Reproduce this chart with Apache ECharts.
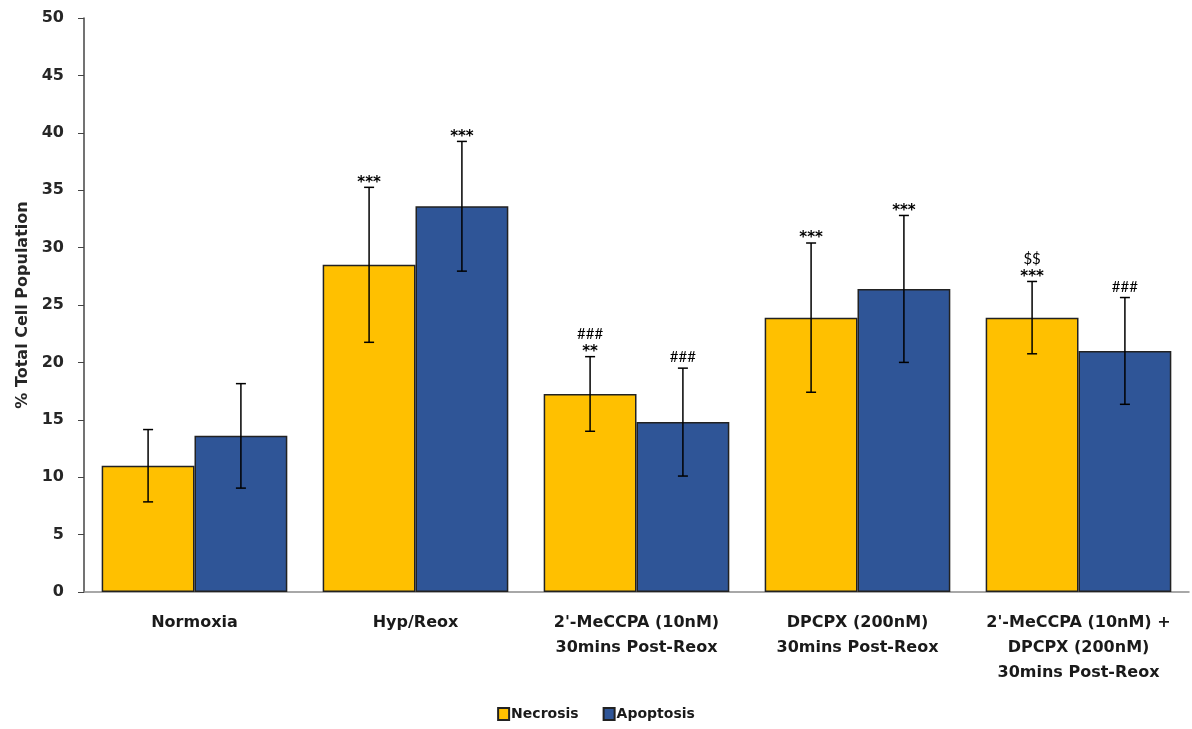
<!DOCTYPE html>
<html><head><meta charset="utf-8">
<script src="https://cdn.jsdelivr.net/npm/echarts@6/dist/echarts.min.js"></script>
<style>html,body{margin:0;padding:0;background:#fff}#c{width:1192px;height:729px}</style>
</head><body><div id="c"></div>
<script>
var categories = ["Normoxia", "Hyp/Reox", "2'-MeCCPA (10nM)\n30mins Post-Reox", "DPCPX (200nM)\n30mins Post-Reox", "2'-MeCCPA (10nM) +\nDPCPX (200nM)\n30mins Post-Reox"];
var necrosis = [11.0, 28.5, 17.25, 23.9, 23.9];
var necrosisErr = [3.15, 6.75, 3.25, 6.5, 3.15];
var apoptosis = [13.6, 33.6, 14.8, 26.4, 21.0];
var apoptosisErr = [4.55, 5.65, 4.7, 6.4, 4.65];
var necrosisSig = ["", "***", "**", "***", "***"];
var necrosisSig2 = ["", "", "###", "", "$$"];
var apoptosisSig = ["", "***", "###", "***", "###"];
var yTicks = {min: 0, max: 50, interval: 5};

var chart = echarts.init(document.getElementById('c'));
var barFrac = 0.42;
function errSeries(vals, errs, sig1, sig2, side) {
  var data = vals.map(function (v, i) { return [i, v, errs[i]]; });
  return {
    type: 'custom', z: 5, silent: true,
    renderItem: function (params, api) {
      var i = api.value(0), v = api.value(1), e = api.value(2);
      var band = api.size([1, 0])[0];
      var base = api.coord([i, v]);
      var x = base[0] + side * band * barFrac / 2;
      var top = api.coord([i, v + e])[1];
      var bot = api.coord([i, v - e])[1];
      var w = 5;
      var children = [
        {type: 'line', shape: {x1: x, y1: top, x2: x, y2: bot}, style: {stroke: '#000', lineWidth: 1.5}},
        {type: 'line', shape: {x1: x - w, y1: top, x2: x + w, y2: top}, style: {stroke: '#000', lineWidth: 1.5}},
        {type: 'line', shape: {x1: x - w, y1: bot, x2: x + w, y2: bot}, style: {stroke: '#000', lineWidth: 1.5}}
      ];
      var s1 = sig1[i], s2 = sig2[i];
      var y = top - 3;
      if (s1) {
        var isStar = s1.indexOf('*') >= 0;
        children.push({type: 'text', style: {text: s1, x: x, y: isStar ? y + 6 : y, align: 'center', verticalAlign: 'bottom',
          font: isStar ? 'bold 15px "DejaVu Sans"' : '15px Lato', fill: '#000'}});
        y -= isStar ? 12 : 18;
      }
      if (s2) {
        children.push({type: 'text', style: {text: s2, x: x, y: y, align: 'center', verticalAlign: 'bottom',
          font: '15px Lato', fill: '#000'}});
      }
      return {type: 'group', children: children};
    },
    data: data
  };
}

chart.setOption({
  animation: false,
  grid: {left: 84, right: 3, top: 18, bottom: 137, containLabel: false},
  legend: {
    bottom: 3, left: 'center', itemWidth: 11, itemHeight: 12, itemGap: 24,
    icon: 'rect',
    textStyle: {fontFamily: 'DejaVu Sans', fontWeight: 'bold', fontSize: 14, color: '#1a1a1a', padding: [0, 0, 0, -3]},
    data: ['Necrosis', 'Apoptosis']
  },
  xAxis: {
    type: 'category', data: categories,
    axisLine: {show: true, lineStyle: {color: '#8c8c8c', width: 1.5}},
    axisTick: {show: false},
    axisLabel: {interval: 0, margin: 18, fontFamily: 'DejaVu Sans', fontWeight: 'bold', fontSize: 16, color: '#1a1a1a', lineHeight: 25, align: 'center'}
  },
  yAxis: {
    type: 'value', min: yTicks.min, max: yTicks.max, interval: yTicks.interval,
    name: '% Total Cell Population', nameLocation: 'middle', nameGap: 53,
    nameTextStyle: {fontFamily: 'DejaVu Sans', fontWeight: 'bold', fontSize: 16, color: '#262626'},
    axisLine: {show: true, lineStyle: {color: '#444', width: 1.5}},
    axisTick: {show: true, inside: false, length: 6, lineStyle: {color: '#444'}},
    splitLine: {show: false},
    axisLabel: {fontFamily: 'DejaVu Sans', fontWeight: 'bold', fontSize: 16, color: '#262626', margin: 20}
  },
  series: [
    {name: 'Necrosis', type: 'bar', data: necrosis, barWidth: '42%', barGap: '0%',
      itemStyle: {color: '#FFC000', borderColor: '#222', borderWidth: 1.5}},
    {name: 'Apoptosis', type: 'bar', data: apoptosis, barWidth: '42%', barGap: '0%',
      itemStyle: {color: '#2F5597', borderColor: '#222', borderWidth: 1.5}},
    errSeries(necrosis, necrosisErr, necrosisSig, necrosisSig2, -1),
    errSeries(apoptosis, apoptosisErr, apoptosisSig, ["", "", "", "", ""], 1)
  ]
});
</script></body></html>
